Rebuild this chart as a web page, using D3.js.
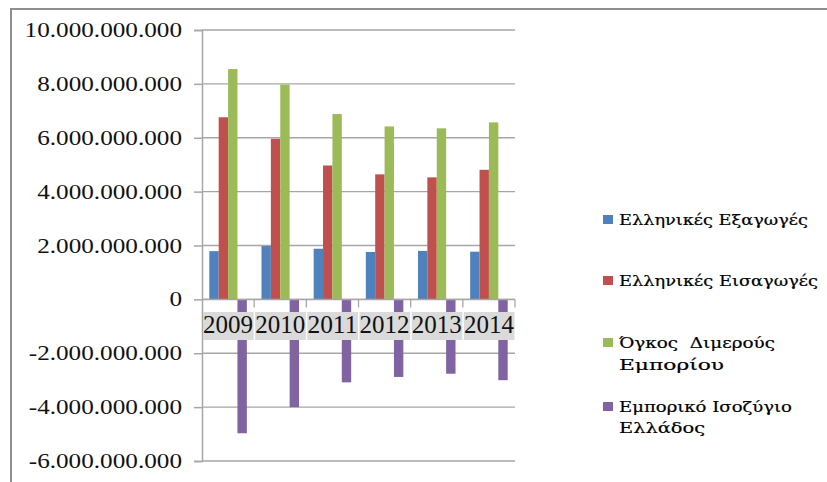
<!DOCTYPE html>
<html><head><meta charset="utf-8">
<script src="https://cdn.jsdelivr.net/npm/d3@7/dist/d3.min.js"></script>
<style>html,body{margin:0;padding:0;background:#fff;overflow:hidden}</style>
</head><body>
<svg id="c" width="827" height="482"></svg>
<script>
const years = ["2009","2010","2011","2012","2013","2014"];
const seriesNames = ["Ελληνικές Εξαγωγές","Ελληνικές Εισαγωγές","Όγκος  Διμερούς Εμπορίου","Εμπορικό Ισοζύγιο Ελλάδος"];
const exportsVals = [1.79e9,1.98e9,1.88e9,1.76e9,1.80e9,1.77e9];
const importsVals = [6.76e9,5.96e9,4.97e9,4.64e9,4.53e9,4.81e9];
const volumeVals  = [8.55e9,7.97e9,6.88e9,6.42e9,6.35e9,6.57e9];
const balanceVals = [-4.97e9,-4.00e9,-3.08e9,-2.88e9,-2.76e9,-3.00e9];
const yTicks = [10e9,8e9,6e9,4e9,2e9,0,-2e9,-4e9,-6e9];
const yTickLabels = ["10.000.000.000","8.000.000.000","6.000.000.000","4.000.000.000","2.000.000.000","0","-2.000.000.000","-4.000.000.000","-6.000.000.000"];
const colors = ["#4f81bd","#c0504d","#9bbb59","#8064a2"];
const legendLines = [["Ελληνικές Εξαγωγές"],["Ελληνικές Εισαγωγές"],["Όγκος  Διμερούς","Εμπορίου"],["Εμπορικό Ισοζύγιο","Ελλάδος"]];

const svg = d3.select("#c");
const serif = "'Liberation Serif','DejaVu Serif',serif";
const greekSerif = "'DejaVu Serif','Liberation Serif',serif";

// outer frame
svg.append("path").attr("d","M11,482 V9 H827").attr("fill","none").attr("stroke","#8e8e8e").attr("stroke-width",2);

const x0 = d3.scaleBand().domain(years).range([202,515]).padding(0);
const x1 = d3.scaleBand().domain(d3.range(4)).range([0,x0.bandwidth()]).paddingInner(0).paddingOuter(0.78);
const y = d3.scaleLinear().domain([-6e9,10e9]).range([461,30]);

// gridlines
svg.append("g").selectAll("line").data(yTicks).join("line")
  .attr("x1",202).attr("x2",515).attr("y1",d=>y(d)).attr("y2",d=>y(d))
  .attr("stroke","#a6a6a6").attr("stroke-width",1.3);

// y axis
const yAxis = d3.axisLeft(y).tickValues(yTicks).tickSize(8).tickFormat("");
const ya = svg.append("g").attr("transform","translate(202,0)").call(yAxis);
ya.selectAll("path,line").attr("stroke","#a6a6a6").attr("stroke-width",1.5);

// y labels
yTicks.forEach((t,i)=>{
  svg.append("g").attr("transform",`translate(182,${y(t)+7}) scale(1.26,1.05)`)
    .append("text").attr("text-anchor","end").attr("font-family",serif).attr("font-size",20)
    .attr("fill","#111").text(yTickLabels[i]);
});

// bars
const data = years.map((yr,i)=>({yr, vals:[exportsVals[i],importsVals[i],volumeVals[i],balanceVals[i]]}));
const g = svg.append("g");
data.forEach(d=>{
  d.vals.forEach((v,k)=>{
    g.append("rect")
      .attr("x", x0(d.yr)+x1(k))
      .attr("width", x1.bandwidth())
      .attr("y", Math.min(y(v),y(0)))
      .attr("height", Math.abs(y(v)-y(0)))
      .attr("fill", colors[k]);
  });
});

// zero line with category ticks
svg.append("line").attr("x1",202).attr("x2",515).attr("y1",y(0)).attr("y2",y(0)).attr("stroke","#a6a6a6").attr("stroke-width",1.5);
const bounds = years.map(yr=>x0(yr)+x0.bandwidth());
svg.append("g").selectAll("line").data(bounds).join("line")
  .attr("x1",d=>d).attr("x2",d=>d).attr("y1",y(0)).attr("y2",y(0)+8)
  .attr("stroke","#a6a6a6").attr("stroke-width",1.3);

// year labels with gray boxes
years.forEach(yr=>{
  svg.append("rect").attr("x",x0(yr)+1).attr("width",x0.bandwidth()-1.5)
    .attr("y",312).attr("height",28).attr("fill","#dadada");
  svg.append("text").attr("x",x0(yr)+x0.bandwidth()/2).attr("y",333)
    .attr("text-anchor","middle").attr("font-family",serif).attr("font-size",26)
    .attr("fill","#111").attr("textLength",50).attr("lengthAdjust","spacingAndGlyphs").text(yr);
});

// legend
const legendBase = [[225],[286],[348,370],[412,433]];
const legendWidths = [[189],[199],[156,105],[173,86]];
legendLines.forEach((lines,k)=>{
  const b = legendBase[k];
  svg.append("rect").attr("x",603).attr("y",b[0]-10).attr("width",10).attr("height",9).attr("fill",colors[k]);
  lines.forEach((ln,j)=>{
    svg.append("text").attr("x",619).attr("y",b[j]).attr("font-family",greekSerif).attr("font-size",15)
      .attr("fill","#000").attr("stroke","#000").attr("stroke-width",0.2)
      .attr("textLength",legendWidths[k][j]).attr("lengthAdjust","spacingAndGlyphs")
      .attr("xml:space","preserve").text(ln);
  });
});
</script>
</body></html>
